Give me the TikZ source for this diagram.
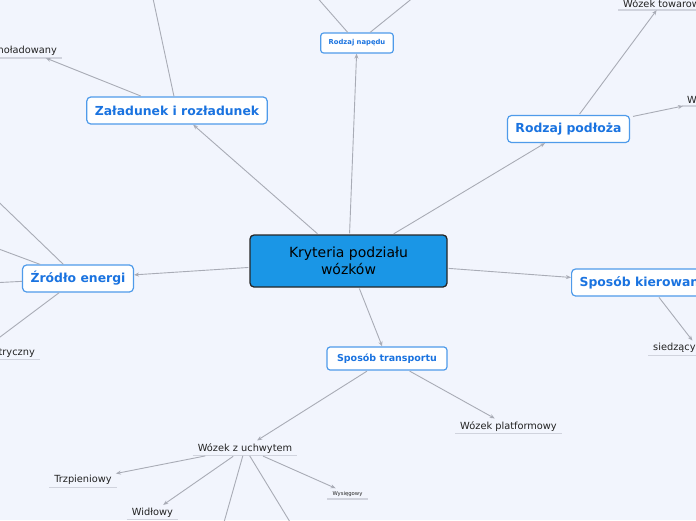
\documentclass[tikz,border=0pt]{standalone}
\usepackage{fontspec}
\setmainfont{DejaVu Sans}
\usetikzlibrary{arrows.meta,positioning}
\definecolor{canvas}{HTML}{F2F5FD}
\definecolor{rootblue}{HTML}{1A96E6}
\definecolor{topicblue}{HTML}{1A73E0}
\definecolor{topicedge}{HTML}{4F9BEA}
\definecolor{linkgray}{HTML}{A9ACB6}
\definecolor{leafline}{HTML}{D0D3DD}
\definecolor{leaftext}{HTML}{222222}

\begin{document}
\begin{tikzpicture}[
  x=1pt, y=-1pt, >={Stealth[length=5pt,width=4pt]},
  root/.style={draw=black!85, fill=rootblue, line width=1.3pt, rounded corners=4pt,
    minimum width=197pt, minimum height=52pt, align=center,
    font=\fontsize{14}{17.5}\selectfont},
  topic/.style={draw=topicedge, fill=white, line width=1.2pt, rounded corners=4pt,
    text=topicblue, inner xsep=8pt, minimum height=27pt,
    font=\fontsize{12.4}{14}\bfseries\selectfont},
  subtopic/.style={topic, rounded corners=3pt, minimum height=23pt, inner xsep=10pt,
    font=\fontsize{9.5}{11}\bfseries\selectfont},
  tinytopic/.style={topic, rounded corners=3pt, minimum height=20pt, inner xsep=8pt,
    font=\fontsize{6.8}{8}\bfseries\selectfont},
  leaf/.style={text=leaftext, inner xsep=4pt, inner ysep=2.5pt,
    font=\fontsize{9.8}{11}\selectfont},
  link/.style={->, draw=linkgray, line width=0.9pt, shorten <=1pt},
  cut/.style={draw=linkgray, line width=0.9pt},
  uline/.style={draw=leafline, line width=1.4pt}
]
  \useasboundingbox (0,0) rectangle (696,520);
  \fill[canvas] (0,0) rectangle (696,520);
  \clip (0,0) rectangle (696,520);

  % main topics
  \node[root] (root) at (348.5,261) {Kryteria podziału\\wózków};
  \node[topic] (zal) at (177,110.5) {Załadunek i rozładunek};
  \node[tinytopic] (napd) at (357,43) {Rodzaj napędu};
  \node[topic] (podl) at (568.5,129) {Rodzaj podłoża};
  \node[topic] (zrod) at (78,278.5) {Źródło energi};
  \node[topic, anchor=west] (kier) at (571,282.5) {Sposób kierowan};
  \node[subtopic] (trans) at (387,358.5) {Sposób transportu};

  % leaves
  \node[leaf, anchor=base east] (nol) at (61,53.3) {noładowany};
  \node[leaf, anchor=base west] (tow) at (619,7.3) {Wózek towarow};
  \node[leaf, anchor=base west] (w) at (683,103.3) {W};
  \node[leaf, anchor=base east] (try) at (39,355) {tryczny};
  \node[leaf, anchor=base west] (sied) at (649,350.7) {siedzący};
  \node[leaf, anchor=base] (uch) at (245,451) {Wózek z uchwytem};
  \node[leaf, anchor=base] (plat) at (508.5,429) {Wózek platformowy};
  \node[leaf, anchor=base] (trz) at (83,482.7) {Trzpieniowy};
  \node[leaf, anchor=base] (widl) at (152.5,515) {Widłowy};
  \node[leaf, anchor=base, font=\fontsize{5.3}{6}\selectfont] (wys) at (347.5,495) {Wysięgowy};
  \foreach \n in {nol,tow,w,try,sied,uch,plat,trz,widl,wys}
    \draw[uline] ([xshift=-1pt]\n.south west) -- ([xshift=1pt]\n.south east);

  % branches running out of the frame
  \coordinate (zalUp) at (148,-25);
  \coordinate (napdL) at (300,-22);
  \coordinate (napdR) at (430,-16);
  \coordinate (zrodA) at (-20,184);
  \coordinate (zrodB) at (-20,242);
  \coordinate (zrodC) at (-20,283.5);
  \coordinate (zrodD) at (-20,352);
  \coordinate (uchL) at (219,540);
  \coordinate (uchR) at (301,540);

  \draw[link] (root) -- (zal);
  \draw[link] (root) -- (napd);
  \draw[link] (root) -- (podl);
  \draw[link] (root) -- (zrod);
  \draw[link] (root) -- (kier);
  \draw[link] (root) -- (trans);

  \draw[link] (zal) -- (nol);
  \draw[cut]  (zal) -- (zalUp);
  \draw[cut]  (napd) -- (napdL);
  \draw[cut]  (napd) -- (napdR);
  \draw[link] (podl) -- (tow);
  \draw[link, shorten <=3pt] ([yshift=12pt]podl.east) -- (w.south west);
  \foreach \c in {zrodA,zrodB,zrodC,zrodD}
    \draw[cut] (zrod) -- (\c);
  \draw[link] ([xshift=19pt]kier.south) -- ([xshift=18pt]sied.north);
  \draw[link] (trans) -- (uch);
  \draw[link] (trans) -- (plat);
  \draw[link] (uch) -- (trz);
  \draw[link] (uch) -- (widl);
  \draw[link] (uch) -- (wys);
  \draw[cut]  (uch) -- (uchL);
  \draw[cut]  (uch) -- (uchR);
\end{tikzpicture}
\end{document}
